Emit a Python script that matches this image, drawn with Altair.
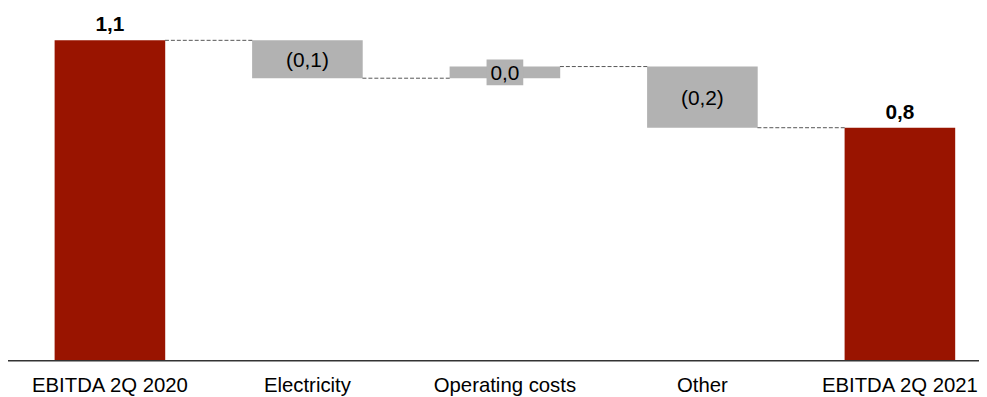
import altair as alt
import pandas as pd

categories = ["EBITDA 2Q 2020", "Electricity", "Operating costs", "Other", "EBITDA 2Q 2021"]
changes = [1.10, -0.13, 0.04, -0.21, 0.80]
labels = ["1,1", "(0,1)", "0,0", "(0,2)", "0,8"]
kinds = ["total", "delta", "delta", "delta", "total"]

rows = []
running = 0.0
for c, v, l, k in zip(categories, changes, labels, kinds):
    if k == "total":
        start, end = 0.0, v
    else:
        start, end = running, running + v
    running = end
    rows.append({"cat": c, "start": start, "end": end, "mid": (start + end) / 2,
                 "label": l, "kind": k, "small": abs(v) < 0.05})
df = pd.DataFrame(rows)

conn = pd.DataFrame([{"cat": categories[i], "next": categories[i + 1], "level": rows[i]["end"]}
                     for i in range(len(categories) - 1)])
base_df = pd.DataFrame({"y": [0.0]})

FONT = "Arial, Liberation Sans, sans-serif"
RED = "#991400"
GRAY = "#b2b2b2"

xscale = alt.Scale(domain=categories, range=[44, 952], paddingInner=0.44, paddingOuter=0)
yscale = alt.Scale(domain=[0, 1.2056], nice=False, zero=False)

X = alt.X("cat:N", scale=xscale, sort=categories,
          axis=alt.Axis(title=None, ticks=False, domain=False, labelAngle=0,
                        labelFont=FONT, labelFontSize=20.5, labelColor="#000000",
                        labelBaseline="alphabetic", labelPadding=31))

bars = alt.Chart(df).mark_bar().encode(
    x=X,
    y=alt.Y("start:Q", scale=yscale, axis=None),
    y2="end:Q",
    color=alt.Color("kind:N", scale=alt.Scale(domain=["total", "delta"], range=[RED, GRAY]), legend=None),
)

box = alt.Chart(df).transform_filter("datum.small").mark_bar(
    size=37, color=GRAY, yOffset=-13, y2Offset=13
).encode(
    x=alt.X("cat:N", scale=xscale, sort=categories),
    y=alt.Y("mid:Q", scale=yscale),
    y2="mid:Q",
)

connectors = alt.Chart(conn).mark_rule(
    color="#555555", strokeWidth=1, strokeDash=[4, 2], xOffset=55.5, x2Offset=-55.5
).encode(
    x=alt.X("cat:N", scale=xscale, sort=categories),
    x2="next:N",
    y=alt.Y("level:Q", scale=yscale),
)

total_text = alt.Chart(df).transform_filter("datum.kind == 'total'").mark_text(
    font=FONT, fontSize=21, fontWeight="bold", baseline="alphabetic", dy=-9, color="#000000"
).encode(
    x=alt.X("cat:N", scale=xscale, sort=categories),
    y=alt.Y("end:Q", scale=yscale),
    text="label:N",
)

delta_text = alt.Chart(df).transform_filter("datum.kind == 'delta'").mark_text(
    font=FONT, fontSize=21, baseline="middle", dy=2, color="#000000"
).encode(
    x=alt.X("cat:N", scale=xscale, sort=categories),
    y=alt.Y("mid:Q", scale=yscale),
    text="label:N",
)

baseline = alt.Chart(base_df).mark_rule(color="#333333", strokeWidth=1.5).encode(
    y=alt.Y("y:Q", scale=yscale),
    x=alt.value(-3),
    x2=alt.value(976),
)

chart = alt.layer(bars, box, connectors, baseline, total_text, delta_text).properties(
    width=976, height=354,
    autosize=alt.AutoSizeParams(type="none"),
    padding={"left": 3, "top": 0, "right": 0, "bottom": 35},
).configure_view(stroke=None)

chart.save("out.html", embed_options={"renderer": "svg", "actions": False})
